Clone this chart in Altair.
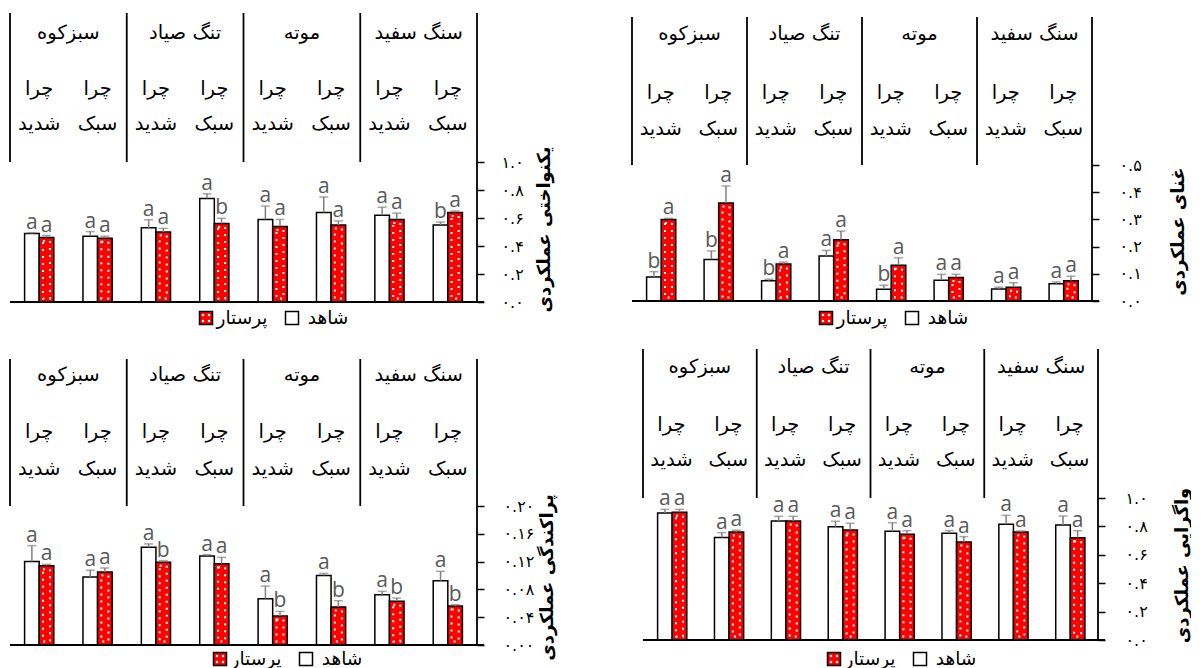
import altair as alt
import pandas as pd

# ---- categories -------------------------------------------------------
regions = ["سبزکوه", "تنگ صیاد", "موته", "سنگ سفید"]
intensity = ["شدید", "سبک"]
graze_word = "چرا"
groups = ["شاهد", "پرستار"]          # control, nurse plant
fills = ["white", "#ff0000"]

# ---- یکنواختی عملکردی (functional evenness) -------------------------
even_ctrl = [0.49, 0.47, 0.53, 0.74, 0.59, 0.64, 0.62, 0.55]
even_ctrl_err = [0.005, 0.033, 0.057, 0.033, 0.095, 0.11, 0.057, 0.021]
even_ctrl_let = ["a", "a", "a", "a", "a", "a", "a", "b"]
even_nurse = [0.46, 0.455, 0.50, 0.56, 0.54, 0.55, 0.59, 0.64]
even_nurse_err = [0.015, 0.015, 0.026, 0.038, 0.05, 0.029, 0.045, 0.01]
even_nurse_let = ["a", "a", "a", "b", "a", "a", "a", "a"]

# ---- غنای عملکردی (functional richness) ------------------------------
rich_ctrl = [0.088, 0.153, 0.074, 0.165, 0.043, 0.076, 0.044, 0.063]
rich_ctrl_err = [0.02, 0.031, 0.006, 0.021, 0.015, 0.022, 0.007, 0.007]
rich_ctrl_let = ["b", "b", "b", "a", "b", "a", "a", "a"]
rich_nurse = [0.30, 0.36, 0.136, 0.225, 0.131, 0.086, 0.051, 0.074]
rich_nurse_err = [0.004, 0.063, 0.007, 0.032, 0.028, 0.012, 0.016, 0.017]
rich_nurse_let = ["a", "a", "a", "a", "a", "a", "a", "a"]

# ---- پراکندگی عملکردی (functional dispersion) ------------------------
disp_ctrl = [0.120, 0.098, 0.1405, 0.128, 0.0667, 0.100, 0.0724, 0.0925]
disp_ctrl_err = [0.023, 0.0096, 0.005, 0.002, 0.018, 0.003, 0.0048, 0.0135]
disp_ctrl_let = ["a", "a", "a", "a", "a", "a", "a", "a"]
disp_nurse = [0.114, 0.105, 0.119, 0.117, 0.0417, 0.0547, 0.0628, 0.056]
disp_nurse_err = [0.002, 0.0058, 0.0024, 0.009, 0.0067, 0.009, 0.0048, 0.002]
disp_nurse_let = ["a", "a", "b", "a", "b", "b", "b", "b"]

# ---- واگرایی عملکردی (functional divergence) -------------------------
div_ctrl = [0.894, 0.721, 0.838, 0.798, 0.765, 0.751, 0.815, 0.81]
div_ctrl_err = [0.026, 0.035, 0.033, 0.038, 0.061, 0.019, 0.063, 0.063]
div_ctrl_let = ["a"] * 8
div_nurse = [0.899, 0.761, 0.838, 0.775, 0.744, 0.69, 0.761, 0.72]
div_nurse_err = [0.021, 0.012, 0.033, 0.047, 0.026, 0.038, 0.007, 0.05]
div_nurse_let = ["a"] * 8

# ---- axis ticks -------------------------------------------------------
ticks_unit = [0, 0.2, 0.4, 0.6, 0.8, 1.0]
labels_unit = ["۰.۰", "۰.۲", "۰.۴", "۰.۶", "۰.۸", "۱.۰"]
ticks_rich = [0, 0.1, 0.2, 0.3, 0.4, 0.5]
labels_rich = ["۰.۰", "۰.۱", "۰.۲", "۰.۳", "۰.۴", "۰.۵"]
ticks_disp = [0, 0.04, 0.08, 0.12, 0.16, 0.2]
labels_disp = ["۰.۰۰", "۰.۰۴", "۰.۰۸", "۰.۱۲", "۰.۱۶", "۰.۲۰"]

FA = "DejaVu Sans"
LAT = "Open Sans"
cols = [str(i) for i in range(len(regions) * len(intensity))]


def label_expr(vals, labels):
    expr = "''"
    for v, lab in reversed(list(zip(vals, labels))):
        expr = f"datum.value == {v} ? '{lab}' : ({expr})"
    return expr


def bar_frame(ctrl, ctrl_err, ctrl_let, nurse, nurse_err, nurse_let):
    rows = []
    for k in range(len(cols)):
        for g, v, e, l in ((groups[0], ctrl, ctrl_err, ctrl_let),
                           (groups[1], nurse, nurse_err, nurse_let)):
            rows.append({"col": cols[k], "group": g, "value": v[k],
                         "hi": v[k] + e[k], "letter": l[k]})
    return pd.DataFrame(rows)


def header_frame():
    rows = []
    k = 0
    for r in regions:
        for t in intensity:
            rows.append({"col": cols[k], "region": r, "first": k % 2 == 0,
                         "line1": graze_word, "line2": t})
            k += 1
    return pd.DataFrame(rows)


def panel(df, ticks, tick_labels, title, g):
    w, h = g["w"], g["h"]
    ppu, base = g["ppu"], g["base"]
    ys = alt.Scale(domain=[-(h - base) / ppu, base / ppu], nice=False, zero=False)
    xs = alt.Scale(domain=cols, paddingInner=0, paddingOuter=0)
    xos = alt.Scale(domain=groups, paddingInner=0, paddingOuter=1)
    fill_scale = alt.Scale(domain=groups, range=fills)

    X = alt.X("col:O", scale=xs, axis=None)
    XO = alt.XOffset("group:N", scale=xos)

    yaxis = alt.Axis(
        orient="right", values=ticks, labelExpr=label_expr(ticks, tick_labels),
        domain=False, grid=False, tickSize=7, tickWidth=1.5, tickColor="black",
        labelPadding=g["lpad"], labelFont=FA, labelFontSize=16, labelColor="black",
        title=title, titleAngle=270, titleX=g["tx"], titleY=g["ty"],
        titleFont=FA, titleFontSize=18, titleFontWeight="bold", titleColor="black",
        titleAlign="center", titleBaseline="middle",
    )

    base_chart = alt.Chart(df)
    bars = base_chart.mark_bar(stroke="black", strokeWidth=1.5).encode(
        x=X, xOffset=XO,
        y=alt.Y("value:Q", scale=ys, axis=yaxis, stack=None),
        y2=alt.datum(0),
        fill=alt.Fill("group:N", scale=fill_scale, legend=None),
    )
    # white dot texture on the nurse bars: a dashed white outline inset in each bar
    inset = 3.5 / ppu
    dots = base_chart.transform_filter(alt.datum.group == groups[1]).transform_calculate(
        inner=f"datum.value - {inset}").mark_bar(
        width=7, fillOpacity=0, stroke="white", strokeWidth=2, strokeDash=[2, 5]).encode(
        x=X, xOffset=XO, y=alt.Y("inner:Q", scale=ys, stack=None), y2=alt.datum(inset))
    err = base_chart.mark_rule(color="#808080", strokeWidth=1.5).encode(
        x=X, xOffset=XO, y=alt.Y("value:Q", scale=ys), y2="hi:Q")
    cap = base_chart.mark_tick(color="#808080", thickness=1.5, size=9).encode(
        x=X, xOffset=XO, y=alt.Y("hi:Q", scale=ys))
    letters = base_chart.mark_text(font=LAT, fontSize=21, color="#595959",
                                   baseline="bottom", dy=0).encode(
        x=X, xOffset=XO, y=alt.Y("hi:Q", scale=ys), text="letter:N")

    baseline = alt.Chart(df).mark_rule(color="black", strokeWidth=1.5).encode(
        y=alt.Y(datum=0, scale=ys),
        x=alt.value(0), x2=alt.value(w + 7))

    hdf = header_frame()
    hchart = alt.Chart(hdf)
    dividers = hchart.transform_filter(alt.datum.first).mark_rule(
        color="black", strokeWidth=1.8).encode(
        x=alt.X("col:O", scale=xs, axis=None, bandPosition=0),
        y=alt.value(g["htop"]), y2=alt.value(g["hbot"]))
    right_edge = alt.Chart(hdf.head(1)).mark_rule(color="black", strokeWidth=1.8).encode(
        x=alt.value(w), y=alt.value(g["htop"]), y2=alt.value(base))
    names = hchart.transform_filter(alt.datum.first).mark_text(
        font=FA, fontSize=19.5, color="black").encode(
        x=alt.X("col:O", scale=xs, axis=None, bandPosition=1),
        y=alt.value(g["ny"]), text="region:N")
    line1 = hchart.mark_text(font=FA, fontSize=19.5, color="black").encode(
        x=alt.X("col:O", scale=xs, axis=None), y=alt.value(g["l1"]), text="line1:N")
    line2 = hchart.mark_text(font=FA, fontSize=19.5, color="black").encode(
        x=alt.X("col:O", scale=xs, axis=None), y=alt.value(g["l2"]), text="line2:N")

    # legend: nurse (dotted red) then control (white), text beside each box
    lx, ly = g["lx"], g["ly"]
    leg = []
    for gi, off in ((1, 0), (0, 86)):
        one = alt.Chart(pd.DataFrame({"group": [groups[gi]]}))
        leg.append(one.mark_square(size=169, stroke="black", strokeWidth=1.5, opacity=1).encode(
            x=alt.value(lx + off), y=alt.value(ly),
            fill=alt.Fill("group:N", scale=fill_scale, legend=None)))
        leg.append(one.mark_text(font=FA, fontSize=18.5, color="black").encode(
            x=alt.value(lx + off + 36), y=alt.value(ly), text="group:N"))
        if gi == 1:
            for dx, dy in ((-3, -3), (3, -3), (-3, 3), (3, 3)):
                leg.append(one.mark_square(size=5, color="white", opacity=1).encode(
                    x=alt.value(lx + dx), y=alt.value(ly + dy)))

    return alt.layer(bars, dots, err, cap, letters, baseline,
                     dividers, right_edge, names, line1, line2, *leg).properties(
        width=w, height=h)


geo_even = dict(w=467, h=323, ppu=140, base=289, htop=0, hbot=149, ny=20, l1=76, l2=111,
                lx=196, ly=305, tx=67, ty=216, lpad=17)
geo_rich = dict(w=460, h=323, ppu=272, base=288, htop=4, hbot=152, ny=21, l1=80, l2=116,
                lx=194, ly=305, tx=86, ty=218, lpad=20)
geo_disp = dict(w=467, h=318, ppu=695, base=296, htop=10, hbot=157, ny=26, l1=83, l2=120,
                lx=210, ly=310, tx=70, ty=228, lpad=19)
geo_div = dict(w=455, h=318, ppu=142, base=291, htop=0, hbot=149, ny=18, l1=76, l2=111,
               lx=191, ly=310, tx=84, ty=216, lpad=20)

p_even = panel(bar_frame(even_ctrl, even_ctrl_err, even_ctrl_let,
                         even_nurse, even_nurse_err, even_nurse_let),
               ticks_unit, labels_unit, "یکنواختی عملکردی", geo_even)
p_rich = panel(bar_frame(rich_ctrl, rich_ctrl_err, rich_ctrl_let,
                         rich_nurse, rich_nurse_err, rich_nurse_let),
               ticks_rich, labels_rich, "غنای عملکردی", geo_rich)
p_disp = panel(bar_frame(disp_ctrl, disp_ctrl_err, disp_ctrl_let,
                         disp_nurse, disp_nurse_err, disp_nurse_let),
               ticks_disp, labels_disp, "پراکندگی عملکردی", geo_disp)
p_div = panel(bar_frame(div_ctrl, div_ctrl_err, div_ctrl_let,
                        div_nurse, div_nurse_err, div_nurse_let),
              ticks_unit, labels_unit, "واگرایی عملکردی", geo_div)

row1 = alt.hconcat(p_even, p_rich, spacing=155, bounds="flush")
row2 = alt.hconcat(p_disp, p_div, spacing=166, bounds="flush")
chart = alt.vconcat(row1, row2, spacing=12).properties(
    padding={"left": 9, "top": 12, "right": 0, "bottom": 0},
    background="white",
).configure_view(stroke=None)

chart.save("out.html", embed_options={"renderer": "svg", "actions": False})
